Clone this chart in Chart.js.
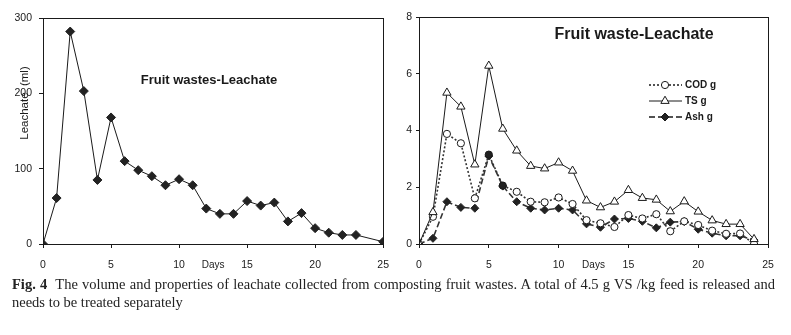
<!DOCTYPE html>
<html>
<head>
<meta charset="utf-8">
<script src="https://cdn.jsdelivr.net/npm/chart.js@4/dist/chart.umd.min.js"></script>
<style>
  body { margin: 0; background: #fff; width: 791px; height: 335px; overflow: hidden; position: relative; }
  #c1 { position: absolute; left: 0; top: 0; }
  #c2 { position: absolute; left: 395px; top: 0; }
  #cap {
    position: absolute; left: 12px; top: 275px; width: 763px;
    font-family: "Liberation Serif", "Times New Roman", serif; font-size: 14.5px; line-height: 18px;
    color: #222;
  }
  #cap .l1 { text-align: justify; text-align-last: justify; white-space: nowrap; }
</style>
</head>
<body>
<canvas id="c1" width="400" height="280"></canvas>
<canvas id="c2" width="396" height="280"></canvas>
<div id="cap"><div class="l1"><b>Fig. 4</b>&nbsp; The volume and properties of leachate collected from composting fruit wastes. A total of 4.5 g VS /kg feed is released and</div><div>needs to be treated separately</div></div>

<script>
// ===== data, left chart (leachate volume)
var leachDays = [0, 1, 2, 3, 4, 5, 6, 7, 8, 9, 10, 11, 12, 13, 14, 15, 16, 17, 18, 19, 20, 21, 22, 23, 25];
var leachMl = [0, 61, 282, 203, 85, 168, 110, 98, 90, 78, 86, 78, 47, 40, 40, 57, 51, 55, 30, 41, 21, 15, 12, 12, 3];
var leachTicks = [0, 100, 200, 300];

// ===== data, right chart (properties)
var propDays = [0, 1, 2, 3, 4, 5, 6, 7, 8, 9, 10, 11, 12, 13, 14, 15, 16, 17, 18, 19, 20, 21, 22, 23, 24];
var codG = [0, 0.96, 3.88, 3.55, 1.61, 3.15, 2.06, 1.84, 1.49, 1.47, 1.64, 1.41, 0.84, 0.73, 0.6, 1.02, 0.9, 1.05, 0.45, 0.8, 0.67, 0.47, 0.36, 0.37, 0.0];
var tsG = [0, 1.12, 5.33, 4.84, 2.8, 6.28, 4.06, 3.29, 2.75, 2.66, 2.87, 2.58, 1.53, 1.29, 1.49, 1.9, 1.62, 1.56, 1.15, 1.5, 1.14, 0.83, 0.7, 0.7, 0.17];
var ashG = [0, 0.2, 1.49, 1.29, 1.26, 3.1, 2.04, 1.49, 1.26, 1.2, 1.26, 1.2, 0.71, 0.59, 0.88, 0.9, 0.8, 0.57, 0.77, 0.79, 0.52, 0.38, 0.29, 0.29, 0.14];
var propTicks = [0, 2, 4, 6, 8];
var dayTicks = [0, 5, 10, 15, 20, 25];

var tickFont = { family: "'Liberation Sans', Arial, sans-serif", size: 10.5 };
var ink = '#1a1a1a';

function pts(xs, ys) {
  var out = [];
  for (var i = 0; i < xs.length; i++) out.push({ x: xs[i], y: ys[i] });
  return out;
}

function tickList(vals) {
  return function(s) { s.ticks = vals.map(function(v) { return { value: v }; }); };
}

// frame + texts drawn on top of the plot
var framePlugin = {
  id: 'frame',
  afterDraw: function(chart, args, o) {
    var a = chart.chartArea, c = chart.ctx;
    c.save();
    c.strokeStyle = ink;
    c.lineWidth = 1;
    c.strokeRect(Math.round(a.left) + 0.5, Math.round(a.top) + 0.5, Math.round(a.right - a.left), Math.round(a.bottom - a.top));
    c.fillStyle = ink;
    c.textAlign = 'center';
    c.textBaseline = 'middle';
    // title inside the plot
    c.font = 'bold ' + o.titleSize + "px 'Liberation Sans', Arial, sans-serif";
    c.fillText(o.title, o.titleX, o.titleY);
    // "Days" on the tick label line
    c.font = "10px 'Liberation Sans', Arial, sans-serif";
    c.fillText('Days', chart.scales.x.getPixelForValue(12.5), a.bottom + 21);
    // y title
    if (o.yTitle) {
      c.translate(o.yTitleX, o.yTitleY);
      c.rotate(-Math.PI / 2);
      c.font = "11.5px 'Liberation Sans', Arial, sans-serif";
      c.fillText(o.yTitle, 0, 0);
      c.setTransform(1, 0, 0, 1, 0, 0);
    }
    // legend with line + marker
    if (o.legend) {
      var ds = chart.data.datasets;
      for (var i = 0; i < ds.length; i++) {
        var y = o.legendY + i * 16;
        c.strokeStyle = ink;
        c.lineWidth = ds[i].borderWidth;
        c.setLineDash(ds[i].borderDash || []);
        c.beginPath();
        c.moveTo(o.legendX, y);
        c.lineTo(o.legendX + 33, y);
        c.stroke();
        c.setLineDash([]);
        c.fillStyle = ds[i].legendFill;
        c.lineWidth = 1;
        Chart.helpers.drawPoint(c, { pointStyle: ds[i].pointStyle, radius: ds[i].pointRadius, borderWidth: 1, rotation: 0 }, o.legendX + 16, y);
        c.fillStyle = ink;
        c.textAlign = 'left';
        c.font = "bold 10px 'Liberation Sans', Arial, sans-serif";
        c.fillText(ds[i].label, o.legendX + 36, y);
      }
    }
    c.restore();
  }
};

function axes(yMax, yVals, yw, yTickLen, yPad) {
  return {
    x: {
      type: 'linear', min: 0, max: 25,
      afterBuildTicks: tickList(dayTicks),
      afterFit: function(s) { s.height = 36; },
      grid: { display: true, drawOnChartArea: false, drawTicks: true, tickLength: 4, color: ink },
      border: { display: true, color: ink },
      ticks: { font: tickFont, color: ink, padding: 11, maxRotation: 0 }
    },
    y: {
      min: 0, max: yMax,
      afterBuildTicks: tickList(yVals),
      afterFit: function(s) { s.width = yw; },
      grid: { display: true, drawOnChartArea: false, drawTicks: true, tickLength: yTickLen, color: ink },
      border: { display: true, color: ink },
      ticks: { font: tickFont, color: ink, padding: yPad }
    }
  };
}

//========= left chart
var ctx1 = document.getElementById('c1').getContext('2d');
var chart1 = new Chart(ctx1, {
  type: 'line',
  data: {
    datasets: [{
      label: 'Leachate',
      data: pts(leachDays, leachMl),
      borderColor: ink, borderWidth: 1,
      pointStyle: 'rectRot', pointRadius: 4.5,
      pointBackgroundColor: '#222', pointBorderColor: '#222',
      tension: 0
    }]
  },
  options: {
    responsive: false, animation: false, devicePixelRatio: 1,
    layout: { padding: { top: 18, right: 13, left: 0, bottom: 0 } },
    scales: axes(300, leachTicks, 43, 4, 7),
    plugins: {
      legend: { display: false }, tooltip: { enabled: false },
      frame: { title: 'Fruit wastes-Leachate', titleSize: 13, titleX: 209, titleY: 80, yTitle: 'Leachate  (ml)', yTitleX: 25, yTitleY: 103 }
    }
  },
  plugins: [framePlugin]
});

//========= right chart
var codFill = propDays.map(function(d, i) { return (i === 5 || i === 6) ? '#222' : '#fff'; });
var ctx2 = document.getElementById('c2').getContext('2d');
var chart2 = new Chart(ctx2, {
  type: 'line',
  data: {
    datasets: [
      {
        label: 'COD g', data: pts(propDays, codG),
        borderColor: '#333', borderWidth: 1.6, borderDash: [2, 2],
        pointStyle: 'circle', pointRadius: 3.6,
        pointBackgroundColor: codFill, pointBorderColor: ink, pointBorderWidth: 1,
        legendFill: '#fff', order: 1
      },
      {
        label: 'TS g', data: pts(propDays, tsG),
        borderColor: ink, borderWidth: 1,
        pointStyle: 'triangle', pointRadius: 4.8,
        pointBackgroundColor: '#fff', pointBorderColor: ink, pointBorderWidth: 1,
        legendFill: '#fff', order: 0
      },
      {
        label: 'Ash g', data: pts(propDays, ashG),
        borderColor: '#333', borderWidth: 1.6, borderDash: [6, 3],
        pointStyle: 'rectRot', pointRadius: 4,
        pointBackgroundColor: '#222', pointBorderColor: '#222', pointBorderWidth: 1,
        legendFill: '#222', order: 2
      }
    ]
  },
  options: {
    responsive: false, animation: false, devicePixelRatio: 1,
    layout: { padding: { top: 17, right: 23, left: 0, bottom: 0 } },
    scales: axes(8, propTicks, 24, 3, 4),
    plugins: {
      legend: { display: false }, tooltip: { enabled: false },
      frame: { title: 'Fruit waste-Leachate', titleSize: 16, titleX: 239, titleY: 35, legend: true, legendX: 254, legendY: 85 }
    }
  },
  plugins: [framePlugin]
});
</script>
</body>
</html>
